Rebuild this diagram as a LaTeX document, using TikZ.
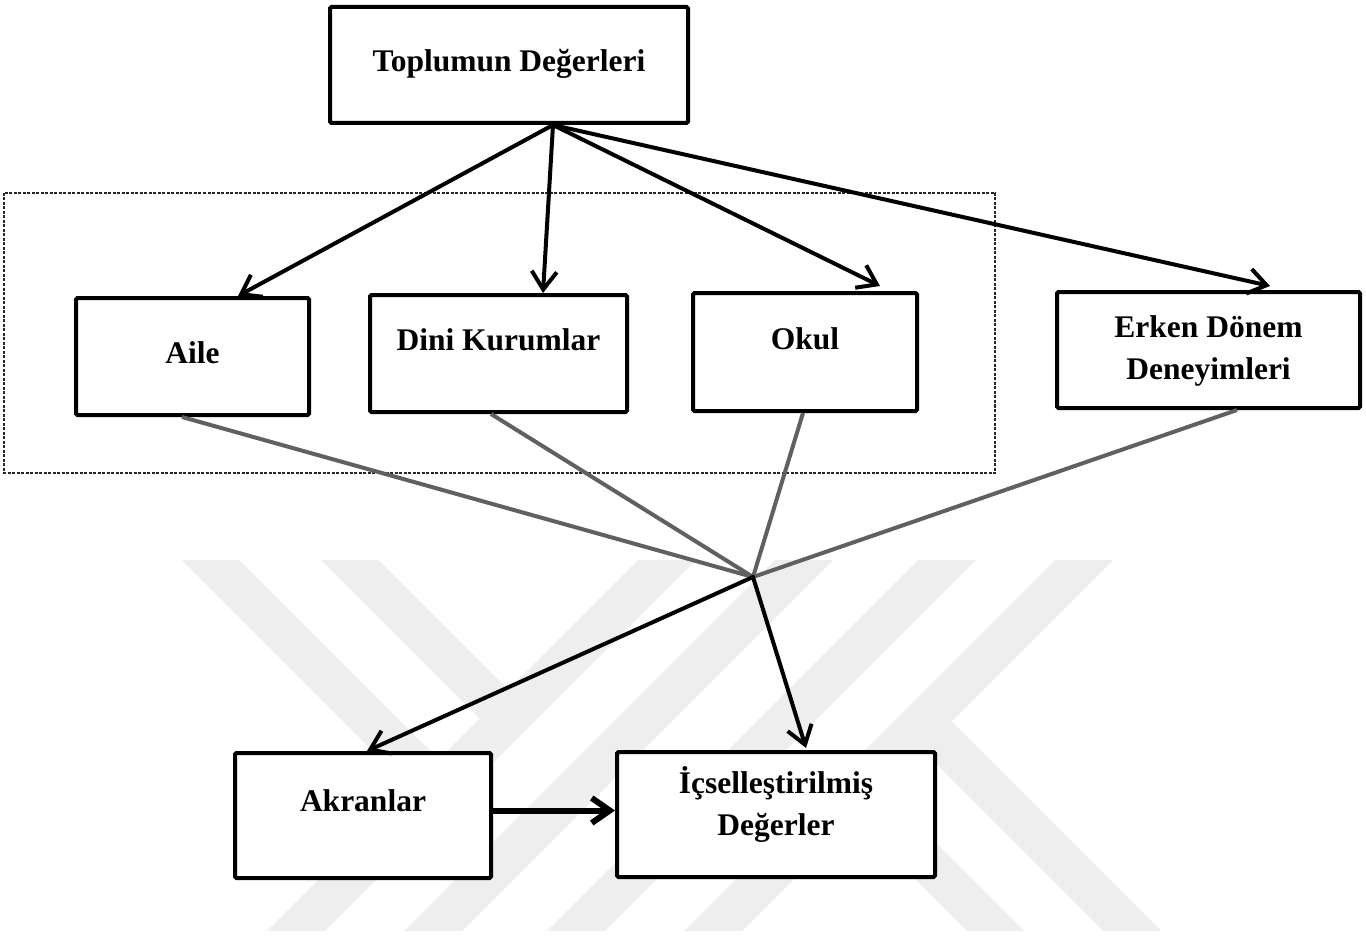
\documentclass[tikz,border=0pt]{standalone}
\usepackage{fontspec}
\setmainfont{Liberation Serif}
\usetikzlibrary{arrows.meta}
\definecolor{filigran}{RGB}{238,238,238}
\definecolor{baggri}{RGB}{96,96,96}
\tikzset{
	kutu/.style={draw, line width=4pt, fill=white, rounded corners=1.5pt, inner sep=0pt,
		align=center, text height=21pt, font=\fontsize{31.5}{42}\selectfont\bfseries},
	ok/.style={line width=4pt, line cap=round, -{Straight Barb[length=18pt,width=25pt]}},
	bag/.style={line width=4pt, color=baggri},
	serit/.style={line width=41pt, color=filigran},
}

\begin{document}
\begin{tikzpicture}[x=1pt, y=-1pt]
			%%%%% START %%%%%
			\useasboundingbox (0,0) rectangle (1366,936);
			
			% filigran
			\begin{scope}
				\clip (0,560) rectangle (1366,930);
				\foreach \c in {297,434,577,714}
					\draw[serit] (\c-30,960) -- (\c+400,530);
				\draw[serit] (180.5,530) -- (438.75,788.25);
				\draw[serit] (320,530) -- (508.5,718.5);
				\draw[serit] (854.25,789.75) -- (1034.5,970);
				\draw[serit] (922.75,721.25) -- (1171.5,970);
			\end{scope}
			
			\draw[dash pattern=on 3pt off 1.5pt, line width=1.1pt, color=black!85] (4,193) rectangle (995,473);
			
			% kutular
			\node[kutu, minimum width=358pt, minimum height=116pt, text depth=7pt] (toplum) at (509,65) {Toplumun Değerleri};
			
			\node[kutu, minimum width=233pt, minimum height=117pt, text depth=8pt] (aile) at (192.5,356.5) {Aile};
			\node[kutu, minimum width=257pt, minimum height=117pt, text depth=28pt] (dini) at (498.5,353.5) {Dini Kurumlar};
			\node[kutu, minimum width=224pt, minimum height=118pt, text depth=27pt] (okul) at (805,352) {Okul};
			\node[kutu, minimum width=303pt, minimum height=116pt, text height=58pt, text depth=0pt] (erken) at (1208.5,350) {Erken Dönem\\Deneyimleri};
			
			\node[kutu, minimum width=256pt, minimum height=125pt, text depth=30pt] (akran) at (363,815.5) {Akranlar};
			\node[kutu, minimum width=318pt, minimum height=125pt, text height=41pt, text depth=0pt] (icsel) at (776,814.5) {İçselleştirilmiş\\Değerler};
			
			\coordinate (cikis) at ([xshift=44pt]toplum.south);
			\coordinate (merkez) at (753,577);
			
			% oklar
			\draw[ok] (cikis) -- ([xshift=45.5pt]aile.north);
			\draw[ok] (cikis) -- ([xshift=44.5pt]dini.north);
			\draw[ok] (cikis) -- ([xshift=75pt,yshift=5pt]okul.north);
			\draw[ok] (cikis) -- ([xshift=61.5pt,yshift=4pt]erken.north);
			
			\draw[bag] ([xshift=-10.5pt]aile.south) -- (merkez);
			\draw[bag] ([xshift=-7.5pt]dini.south) -- (merkez);
			\draw[bag] ([xshift=-2pt]okul.south) -- (merkez);
			\draw[bag] ([xshift=28.5pt]erken.south) -- (merkez);
			
			\draw[ok] (merkez) -- ([xshift=4pt]akran.north);
			\draw[ok] (merkez) -- ([xshift=30pt,yshift=2pt]icsel.north);
			\draw[ok, line width=6pt] ([yshift=5pt]akran.east) -- ([yshift=5pt]akran.east -| icsel.west);
			
			%%%%% END %%%%%
\end{tikzpicture}
\end{document}
